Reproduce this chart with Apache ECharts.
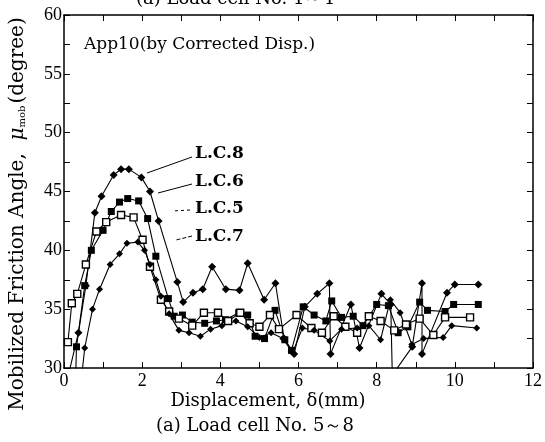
<!DOCTYPE html>
<html>
<head>
<meta charset="utf-8">
<script src="https://cdn.jsdelivr.net/npm/echarts@6/dist/echarts.min.js"></script>
<style>
  html, body { margin: 0; padding: 0; background: #fff; }
  #chart { width: 545px; height: 442px; }
</style>
</head>
<body>
<div id="chart"></div>
<script>
  // displacement (mm), mobilized friction angle (degree)
  var lc8 = [[0.12,29.5],[0.37,33.0],[0.56,37.0],[0.79,43.2],[0.96,44.6],[1.27,46.4],[1.46,46.9],[1.66,46.9],
    [1.98,46.2],[2.2,45.0],[2.42,42.5],[2.9,37.3],[3.05,35.6],[3.3,36.4],[3.55,36.7],[3.79,38.6],[4.14,36.7],
    [4.49,36.6],[4.7,38.9],[5.12,35.8],[5.41,37.2],[5.63,32.5],[5.89,31.2],[6.16,35.2],[6.48,36.3],[6.79,37.2],
    [6.82,31.2],[7.34,35.4],[7.56,31.7],[8.12,36.3],[8.36,35.4],[8.40,29.4],[8.91,31.8],[9.16,37.2],[9.16,31.2],
    [9.8,36.4],[10.0,37.1],[10.6,37.1]]
  var lc6 = [[0.3,29.5],[0.32,31.8],[0.53,37.0],[0.70,40.0],[1.0,41.7],[1.21,43.3],[1.42,44.1],[1.63,44.4],
    [1.91,44.2],[2.14,42.7],[2.35,39.5],[2.67,35.9],[2.82,34.4],[3.03,34.5],[3.28,33.9],[3.6,33.8],[3.9,34.0],
    [4.13,34.1],[4.47,34.7],[4.7,34.5],[4.89,32.7],[5.13,32.5],[5.4,34.9],[5.65,32.4],[5.82,31.5],[6.12,35.2],
    [6.4,34.5],[6.7,34.0],[6.85,35.7],[7.1,34.3],[7.4,34.4],[7.65,33.6],[8.0,35.4],[8.3,35.3],[8.55,33.0],
    [8.8,33.5],[9.1,35.6],[9.3,34.9],[9.75,34.8],[9.97,35.4],[10.6,35.4]]
  var lc5 = [[0.1,32.2],[0.2,35.5],[0.34,36.3],[0.56,38.8],[0.83,41.6],[1.08,42.4],[1.46,43.0],[1.78,42.8],
    [2.01,40.9],[2.2,38.6],[2.48,35.8],[2.69,34.8],[2.94,34.2],[3.28,33.6],[3.58,34.7],[3.94,34.7],[4.2,34.0],
    [4.51,34.7],[4.75,33.8],[5.0,33.5],[5.27,34.5],[5.5,33.3],[5.95,34.5],[6.33,33.4],[6.6,33.0],[6.9,34.4],
    [7.2,33.5],[7.5,33.0],[7.8,34.4],[8.1,34.0],[8.45,33.2],[8.75,33.7],[9.1,34.2],[9.45,32.8],[9.75,34.3],
    [10.39,34.3]]
  var lc7 = [[0.45,29.2],[0.53,31.7],[0.73,35.0],[0.91,36.7],[1.18,38.8],[1.42,39.7],[1.61,40.6],[1.89,40.7],
    [2.06,40.0],[2.2,38.8],[2.35,37.5],[2.48,36.1],[2.69,34.6],[2.94,33.2],[3.2,33.0],[3.49,32.7],[3.75,33.3],
    [4.04,33.6],[4.4,34.0],[4.7,33.5],[5.0,32.6],[5.3,33.0],[5.6,32.5],[5.85,31.3],[6.1,33.4],[6.4,33.2],
    [6.8,32.3],[7.1,33.3],[7.5,33.4],[7.8,33.6],[8.1,32.4],[8.35,35.8],[8.6,34.7],[8.9,32.0],[9.2,32.5],
    [9.7,32.6],[9.92,33.6],[10.56,33.4]]
  var seriesNames = ['L.C.8', 'L.C.6', 'L.C.5', 'L.C.7']

  var chart = echarts.init(document.getElementById('chart'))
  var tickFont = {fontFamily: 'Liberation Serif', fontSize: 18, color: '#000'}
  var serif = 'DejaVu Serif'

  function mkSeries(name, data, symbol, size, open) {
    return {
      name: name, type: 'line', data: data, symbol: symbol, symbolSize: size,
      showAllSymbol: true, animation: false,
      lineStyle: {color: '#000', width: 1.1},
      itemStyle: open ? {color: '#fff', borderColor: '#000', borderWidth: 1.4} : {color: '#000'}
    }
  }

  var axisX = function (pos, show) {
    return {
      type: 'value', position: pos, min: 0, max: 12, interval: 1,
      axisLine: {show: true, onZero: false, lineStyle: {color: '#000', width: 1.5}},
      axisTick: {show: true, inside: true, length: 6, lineStyle: {color: '#000'}},
      axisLabel: {show: show, margin: 4, formatter: function (v) { return v % 2 === 0 ? v : '' }, ...tickFont},
      splitLine: {show: false}
    }
  }
  var axisY = function (pos, show) {
    return {
      type: 'value', position: pos, min: 30, max: 60, interval: 2.5,
      axisLine: {show: true, onZero: false, lineStyle: {color: '#000', width: 1.5}},
      axisTick: {show: true, inside: true, length: 6, lineStyle: {color: '#000'}},
      axisLabel: {show: show, margin: 2, formatter: function (v) { return v % 5 === 0 ? v : '' }, ...tickFont},
      splitLine: {show: false}
    }
  }

  chart.setOption({
    backgroundColor: '#fff',
    animation: false,
    grid: {left: 64, right: 8, top: 15, bottom: 74},
    xAxis: [axisX('bottom', true), axisX('top', false)],
    yAxis: [axisY('left', true), axisY('right', false)],
    series: [
      mkSeries(seriesNames[0], lc8, 'diamond', 8, false),
      mkSeries(seriesNames[1], lc6, 'rect', 7, false),
      mkSeries(seriesNames[2], lc5, 'rect', 7, true),
      mkSeries(seriesNames[3], lc7, 'diamond', 7, false)
    ],
    graphic: [
      {type: 'text', x: 235, y: -10, style: {text: '(a) Load cell No. 1～4', font: '18px ' + serif, fill: '#000', align: 'center'}},
      {type: 'text', x: 84, y: 36, style: {text: 'App10(by Corrected Disp.)', font: '17px ' + serif, fill: '#000'}},
      {type: 'text', x: 18, y: 214, rotation: Math.PI / 2,
        style: {text: 'Mobilized Friction Angle,  {m|μ}{s|mob}(degree)', font: '20px ' + serif, fill: '#000',
          align: 'center', verticalAlign: 'middle',
          rich: {m: {fontFamily: serif, fontSize: 20, fontStyle: 'italic'}, s: {fontFamily: serif, fontSize: 10, padding: [8, 2, 0, 0]}}}},
      {type: 'text', x: 268, y: 392, style: {text: 'Displacement, δ(mm)', font: '18px ' + serif, fill: '#000', align: 'center'}},
      {type: 'text', x: 255, y: 417, style: {text: '(a) Load cell No. 5～8', font: '18px ' + serif, fill: '#000', align: 'center'}},
      {type: 'text', x: 195, y: 145, style: {text: 'L.C.8', font: 'bold 17px ' + serif, fill: '#000'}},
      {type: 'text', x: 195, y: 173, style: {text: 'L.C.6', font: 'bold 17px ' + serif, fill: '#000'}},
      {type: 'text', x: 195, y: 200, style: {text: 'L.C.5', font: 'bold 17px ' + serif, fill: '#000'}},
      {type: 'text', x: 195, y: 228, style: {text: 'L.C.7', font: 'bold 17px ' + serif, fill: '#000'}},
      {type: 'line', shape: {x1: 192, y1: 157, x2: 147, y2: 173}, style: {stroke: '#000', lineWidth: 1}},
      {type: 'line', shape: {x1: 192, y1: 184, x2: 158, y2: 193}, style: {stroke: '#000', lineWidth: 1}},
      {type: 'line', shape: {x1: 190, y1: 210, x2: 172, y2: 211}, style: {stroke: '#000', lineWidth: 1, lineDash: [3, 3]}},
      {type: 'line', shape: {x1: 192, y1: 236, x2: 176, y2: 240}, style: {stroke: '#000', lineWidth: 1, lineDash: [4, 2]}}
    ]
  })
</script>
</body>
</html>
